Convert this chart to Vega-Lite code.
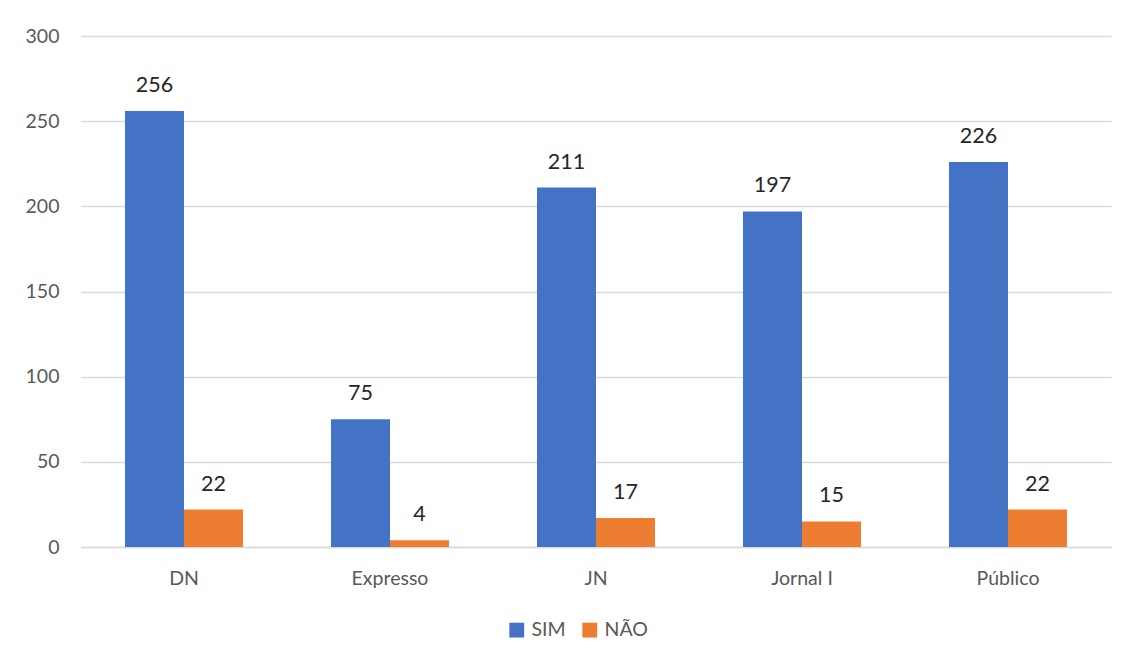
{
  "$schema": "https://vega.github.io/schema/vega-lite/v6.json",
  "width": 1030,
  "height": 511,
  "padding": {"left": 25, "top": 26, "right": 15, "bottom": 5},
  "background": "white",
  "data": {
    "values": [
      {"jornal": "DN", "resposta": "SIM", "valor": 256},
      {"jornal": "DN", "resposta": "NÃO", "valor": 22},
      {"jornal": "Expresso", "resposta": "SIM", "valor": 75},
      {"jornal": "Expresso", "resposta": "NÃO", "valor": 4},
      {"jornal": "JN", "resposta": "SIM", "valor": 211},
      {"jornal": "JN", "resposta": "NÃO", "valor": 17},
      {"jornal": "Jornal I", "resposta": "SIM", "valor": 197},
      {"jornal": "Jornal I", "resposta": "NÃO", "valor": 15},
      {"jornal": "Público", "resposta": "SIM", "valor": 226},
      {"jornal": "Público", "resposta": "NÃO", "valor": 22}
    ]
  },
  "encoding": {
    "x": {
      "field": "jornal",
      "type": "nominal",
      "sort": null,
      "title": null,
      "scale": {"paddingInner": 0.427, "paddingOuter": 0.2135},
      "axis": {
        "labelAngle": 0,
        "labelFont": "Lato",
        "labelFontSize": 19.5,
        "labelColor": "#595959",
        "labelPadding": 22,
        "ticks": false,
        "domainColor": "#D9D9D9",
        "domainWidth": 1.5
      }
    },
    "xOffset": {"field": "resposta", "type": "nominal", "sort": ["SIM", "NÃO"]},
    "y": {
      "field": "valor",
      "type": "quantitative",
      "title": null,
      "scale": {"domain": [0, 300], "nice": false},
      "axis": {
        "values": [0, 50, 100, 150, 200, 250, 300],
        "labelFont": "Lato",
        "labelFontSize": 19.5,
        "labelColor": "#595959",
        "labelPadding": 22,
        "domain": false,
        "ticks": false,
        "gridColor": "#D9D9D9",
        "gridWidth": 1.5
      }
    }
  },
  "layer": [
    {
      "mark": {"type": "bar"},
      "encoding": {
        "color": {
          "field": "resposta",
          "type": "nominal",
          "sort": ["SIM", "NÃO"],
          "scale": {"domain": ["SIM", "NÃO"], "range": ["#4472C4", "#ED7D31"]},
          "legend": {
            "title": null,
            "orient": "none",
            "legendX": 426,
            "legendY": 584,
            "direction": "horizontal",
            "symbolType": "square",
            "symbolSize": 220,
            "symbolStrokeWidth": 0,
            "labelFont": "Lato",
            "labelFontSize": 19.5,
            "labelColor": "#595959",
            "columnPadding": 14,
            "labelOffset": 5
          }
        }
      }
    },
    {
      "mark": {"type": "text", "baseline": "bottom", "dy": -14, "font": "Lato", "fontSize": 21.5, "color": "#262626"},
      "encoding": {
        "text": {"field": "valor", "type": "quantitative"}
      }
    }
  ],
  "config": {"view": {"stroke": null}}
}
